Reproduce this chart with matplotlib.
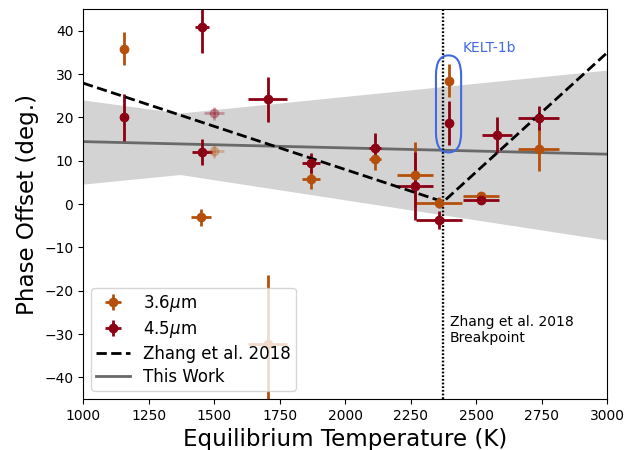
import numpy as np
import matplotlib
matplotlib.use('Agg')
import matplotlib.pyplot as plt
from matplotlib.patches import FancyBboxPatch

# 3.6 micron offsets
t36 = [1158, 1450, 1705, 1870, 2114, 2268, 2359, 2395, 2519, 2739]
t36_err = [0, 38, 75, 34, 22, 69, 89, 8, 69, 78]
off36 = [35.8, -3.1, -32.3, 5.7, 10.4, 6.7, 0.3, 28.5, 1.8, 12.7]
off36_err = [3.8, 1.9, 15.9, 2.3, 2.5, 7.5, 1.3, 3.85, 1.0, 5.0]

# 4.5 micron offsets
t45 = [1158, 1453, 1453, 1705, 1870, 2114, 2268, 2359, 2395, 2519, 2579, 2739]
t45_err = [0, 27, 39, 75, 34, 22, 69, 89, 8, 69, 58, 78]
off45 = [20.0, 40.9, 11.9, 24.2, 9.4, 12.9, 4.2, -3.7, 18.7, 0.9, 15.9, 19.8]
off45_err = [5.4, 6.0, 3.0, 5.2, 2.3, 3.5, 7.9, 2.1, 5.0, 1.0, 4.2, 2.8]

# lower-weight points drawn faded
faded_t = [1501, 1501]
faded_terr = [38, 38]
faded_off = [12.2, 20.9]
faded_err = [1.5, 1.5]

# Zhang et al. 2018 broken line
zhang_t = [1000, 2375, 3000]
zhang_off = [27.9, 0.5, 34.9]
t_break = 2375

# this work: fit and credible band
fit_t = [1000, 3000]
fit_off = [14.4, 11.5]
band_t = [1000, 1370, 3000]
band_lo = [4.6, 6.8, -8.3]
band_hi = [24.0, 21.0, 30.9]

c36 = '#b5500c'
c45 = '#8c0014'

fig = plt.figure(figsize=(6.39, 4.5), dpi=100)
ax = fig.add_axes([0.130, 0.1133, 0.820, 0.8667])

ax.fill_between(band_t, band_lo, band_hi, color='lightgray', lw=0)
ax.plot(fit_t, fit_off, color='dimgray', lw=2, label='This Work')
ax.axvline(t_break, color='k', lw=1.7, ls=(0, (0.75, 0.8)))

ax.errorbar(t36, off36, xerr=t36_err, yerr=off36_err, fmt='o', color=c36,
            ms=6, elinewidth=2, capsize=0, label=r'3.6$\mu$m')
ax.errorbar(faded_t[0], faded_off[0], xerr=faded_terr[0], yerr=faded_err[0],
            fmt='o', color=c36, ms=6, elinewidth=2, capsize=0, alpha=0.3)
ax.errorbar(t45, off45, xerr=t45_err, yerr=off45_err, fmt='o', color=c45,
            ms=6, elinewidth=2, capsize=0, label=r'4.5$\mu$m')
ax.errorbar(faded_t[1], faded_off[1], xerr=faded_terr[1], yerr=faded_err[1],
            fmt='o', color=c45, ms=6, elinewidth=2, capsize=0, alpha=0.3)

ax.plot(zhang_t, zhang_off, 'k--', lw=2, label='Zhang et al. 2018')

# KELT-1b highlight
box = FancyBboxPatch((2395 - 48, 23.1 - 11.2), 96, 22.4,
                     boxstyle='round,pad=0,rounding_size=48',
                     mutation_aspect=0.095, fc='none', ec='royalblue', lw=1.5,
                     zorder=5)
ax.add_patch(box)
ax.text(2450, 36, 'KELT-1b', color='royalblue', fontsize=10, va='center')
ax.text(2400, -29, 'Zhang et al. 2018\nBreakpoint', fontsize=10, va='center')

ax.set_xlim(1000, 3000)
ax.set_ylim(-45, 45)
ax.set_xlabel('Equilibrium Temperature (K)', fontsize=16.6)
ax.set_ylabel('Phase Offset (deg.)', fontsize=16.6)

h, l = ax.get_legend_handles_labels()
order = [l.index(r'3.6$\mu$m'), l.index(r'4.5$\mu$m'),
         l.index('Zhang et al. 2018'), l.index('This Work')]
ax.legend([h[i] for i in order], [l[i] for i in order], loc='lower left',
          fontsize=12, labelspacing=0.3, borderpad=0.3)

fig.savefig('out.png', dpi=100)
